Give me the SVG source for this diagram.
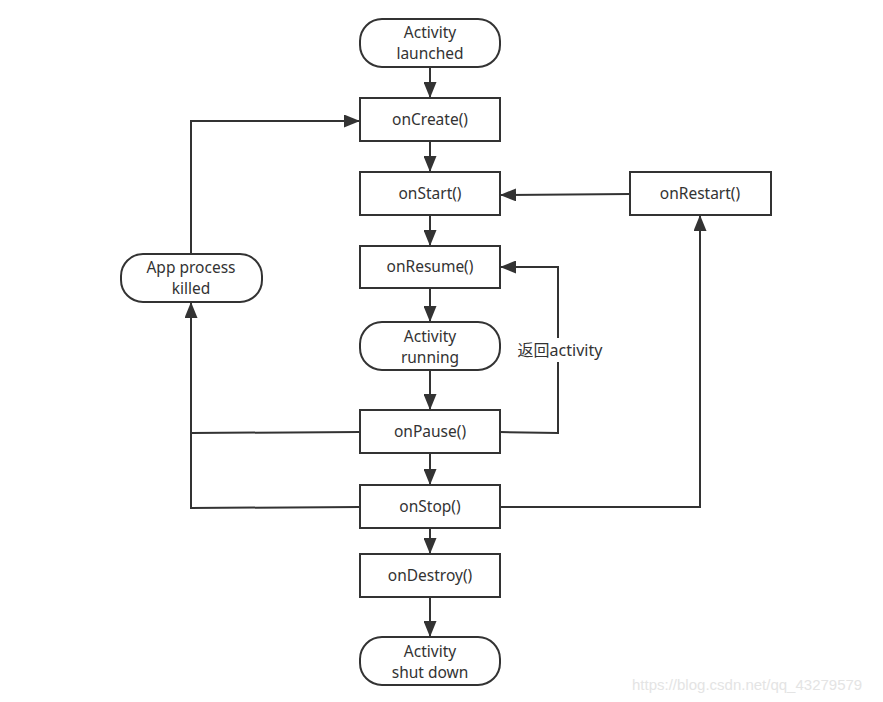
<svg xmlns="http://www.w3.org/2000/svg" width="883" height="702" viewBox="0 0 883 702">
<style>
.box{fill:#fff;stroke:#333;stroke-width:2}
.t{font-family:"Noto Sans","Liberation Sans",sans-serif;font-size:15.5px;fill:#333;text-anchor:middle}
.c{fill:none;stroke:#333;stroke-width:2}
.wm{font-family:"Liberation Sans",Arial,sans-serif;font-size:15px;fill:#e4e4e4}
.lbl{font-family:"Noto Sans","Noto Sans CJK SC",sans-serif;font-size:16px;fill:#333;text-anchor:middle}
</style>
<defs>
<marker id="ah" markerWidth="16" markerHeight="13" refX="15" refY="6.5" orient="auto" markerUnits="userSpaceOnUse">
<path d="M0,0 L16,6.5 L0,13 z" fill="#333"/>
</marker>
</defs>
<rect width="883" height="702" fill="#fff"/>
<g id="connectors">
<line class="c" x1="430" y1="67" x2="430" y2="97" marker-end="url(#ah)"/>
<line class="c" x1="430" y1="141" x2="430" y2="171" marker-end="url(#ah)"/>
<line class="c" x1="430" y1="215" x2="430" y2="245" marker-end="url(#ah)"/>
<line class="c" x1="430" y1="288" x2="430" y2="321" marker-end="url(#ah)"/>
<line class="c" x1="430" y1="370" x2="430" y2="409" marker-end="url(#ah)"/>
<line class="c" x1="430" y1="453" x2="430" y2="484" marker-end="url(#ah)"/>
<line class="c" x1="430" y1="528" x2="430" y2="553" marker-end="url(#ah)"/>
<line class="c" x1="430" y1="597" x2="430" y2="636" marker-end="url(#ah)"/>
<line class="c" x1="630" y1="194" x2="501" y2="195" marker-end="url(#ah)"/>
<polyline class="c" points="500,432 558,433 558,267 501,267" marker-end="url(#ah)"/>
<polyline class="c" points="500,507 700,507 700,216" marker-end="url(#ah)"/>
<polyline class="c" points="360,432 191,433"/>
<polyline class="c" points="360,507 191,508 191,303" marker-end="url(#ah)"/>
<polyline class="c" points="191,254 191,121 359,121" marker-end="url(#ah)"/>
<rect x="512" y="338" width="96" height="24" fill="#fff"/>
<text class="lbl" x="560" y="356">返回activity</text>
</g>
<g id="launched"><rect class="box" x="360" y="19" width="140" height="48" rx="22"/><text class="t" x="430" y="38">Activity</text><text class="t" x="430" y="59">launched</text></g>
<g id="onCreate"><rect class="box" x="360" y="98" width="140" height="43"/><text class="t" x="430" y="125">onCreate()</text></g>
<g id="onStart"><rect class="box" x="360" y="172" width="140" height="43"/><text class="t" x="430" y="199">onStart()</text></g>
<g id="onResume"><rect class="box" x="360" y="246" width="140" height="42"/><text class="t" x="430" y="272">onResume()</text></g>
<g id="running"><rect class="box" x="360" y="322" width="140" height="48" rx="22"/><text class="t" x="430" y="342">Activity</text><text class="t" x="430" y="363">running</text></g>
<g id="onPause"><rect class="box" x="360" y="410" width="140" height="43"/><text class="t" x="430" y="437">onPause()</text></g>
<g id="onStop"><rect class="box" x="360" y="485" width="140" height="43"/><text class="t" x="430" y="512">onStop()</text></g>
<g id="onDestroy"><rect class="box" x="360" y="554" width="140" height="43"/><text class="t" x="430" y="581">onDestroy()</text></g>
<g id="shutdown"><rect class="box" x="360" y="637" width="140" height="48" rx="22"/><text class="t" x="430" y="657">Activity</text><text class="t" x="430" y="678">shut down</text></g>
<g id="onRestart"><rect class="box" x="630" y="172" width="141" height="43"/><text class="t" x="700" y="199">onRestart()</text></g>
<g id="killed"><rect class="box" x="121" y="254" width="141" height="48" rx="22"/><text class="t" x="191" y="273">App process</text><text class="t" x="191" y="294">killed</text></g>
<text class="wm" x="632" y="690">https://blog.csdn.net/qq_43279579</text>
</svg>
